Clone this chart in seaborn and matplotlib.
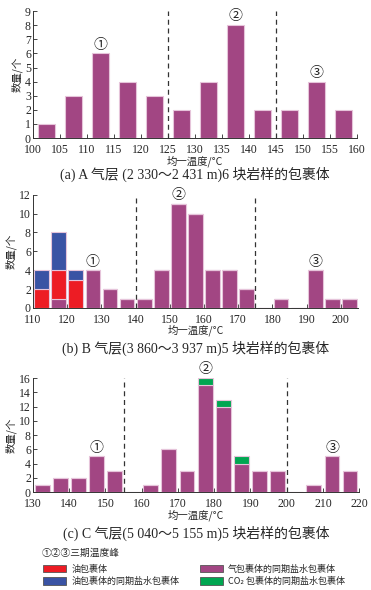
import numpy as np
import pandas as pd
import matplotlib
matplotlib.use("Agg")
import matplotlib.pyplot as plt
from matplotlib.patches import Patch
import seaborn as sns

# ---------------------------------------------------------------------------
# Data (bin left edges, counts per inclusion type)
# ---------------------------------------------------------------------------
a_bins = [100, 105, 110, 115, 120, 125, 130, 135, 140, 145, 150, 155]
a_gas = [1, 3, 6, 4, 3, 2, 4, 8, 2, 2, 4, 2]

b_bins = [110, 115, 120, 125, 130, 135, 140, 145, 150, 155, 160, 165, 170,
          175, 180, 185, 190, 195, 200]
b_gas = [0, 1, 0, 4, 2, 1, 1, 4, 11, 10, 4, 4, 2, 0, 1, 0, 4, 1, 1]
b_oil = [2, 3, 3, 0, 0, 0, 0, 0, 0, 0, 0, 0, 0, 0, 0, 0, 0, 0, 0]
b_oil_brine = [2, 4, 1, 0, 0, 0, 0, 0, 0, 0, 0, 0, 0, 0, 0, 0, 0, 0, 0]

c_bins = [130, 135, 140, 145, 150, 155, 160, 165, 170, 175, 180, 185, 190,
          195, 200, 205, 210, 215]
c_gas = [1, 2, 2, 5, 3, 0, 1, 6, 3, 15, 12, 4, 3, 3, 0, 1, 5, 3]
c_co2 = [0, 0, 0, 0, 0, 0, 0, 0, 0, 1, 1, 1, 0, 0, 0, 0, 0, 0]

titles = ["(a) A 气层 (2 330～2 431 m)6 块岩样的包裹体",
          "(b) B 气层(3 860～3 937 m)5 块岩样的包裹体",
          "(c) C 气层(5 040～5 155 m)5 块岩样的包裹体"]
peak_labels = ["①", "②", "③"]
a_peaks = [(112.5, 6), (137.5, 8), (152.5, 4)]
b_peaks = [(127.5, 4), (152.5, 11), (192.5, 4)]
c_peaks = [(147.5, 5), (177.5, 16), (212.5, 5)]
a_dashes = [125, 145]
b_dashes = [140, 175]
c_dashes = [155, 200]

# ---------------------------------------------------------------------------
# Style
# ---------------------------------------------------------------------------
RED = "#ED1C24"
BLUE = "#3A53A4"
PURPLE = "#A24683"
GREEN = "#00A651"
EDGE = "#E6C4DA"

sns.set_style("ticks")
SERIF = ["Liberation Serif", "Noto Sans CJK SC", "DejaVu Sans"]
CJK = ["Noto Sans CJK SC", "DejaVu Sans"]
plt.rcParams["font.family"] = SERIF
plt.rcParams["xtick.direction"] = "in"
plt.rcParams["ytick.direction"] = "in"
plt.rcParams["axes.edgecolor"] = "#333333"

fig = plt.figure(figsize=(3.71, 5.90), dpi=100)


def tidy(bins, series):
    rows = []
    for name, vals in series.items():
        for b, v in zip(bins, vals):
            rows.append({"x": b + 2.5, "n": v, "kind": name})
    return pd.DataFrame(rows)


def style_axes(ax, xlim, xticks, ylim, yticks, dashes, peaks, title, title_y):
    ax.set_xlim(*xlim)
    ax.set_ylim(*ylim)
    ax.set_xticks(xticks)
    ax.set_yticks(yticks)
    ax.tick_params(labelsize=8.5, length=3, width=0.6)
    ax.tick_params(axis="x", pad=4.5)
    ax.tick_params(axis="y", pad=1.5)
    for d in dashes:
        ax.axvline(d, color="#333333", linestyle=(0, (4, 3)), linewidth=0.9)
    for lab, (x, y) in zip(peak_labels, peaks):
        ax.text(x, y + ylim[1] * 0.015, lab, ha="center", va="bottom",
                fontsize=10, family=CJK, color="#222222")
    sns.despine(ax=ax)
    for s in ("left", "bottom"):
        ax.spines[s].set_linewidth(0.7)
    ax.set_xlabel("均一温度/°C", fontsize=7.5, family=CJK, labelpad=-1)
    ax.set_ylabel("数量/个", fontsize=7.5, family=CJK, labelpad=2)
    pos = ax.get_position()
    fig.text((pos.x0 + pos.x1) / 2, title_y, title, ha="center", va="center",
             fontsize=10, family=SERIF)


# Panel A
ax1 = fig.add_axes([0.089, 0.766, 0.873, 0.215])
dfa = tidy(a_bins, {"gas": a_gas})
sns.histplot(data=dfa, x="x", weights="n", binwidth=5, binrange=(100, 160),
             shrink=0.6, color=PURPLE, alpha=1, edgecolor=EDGE, linewidth=0.8,
             ax=ax1)
style_axes(ax1, (100, 160), np.arange(100, 165, 5), (0, 9), range(0, 10),
           a_dashes, a_peaks, titles[0], 1 - 174 / 590)

# Panel B
ax2 = fig.add_axes([0.089, 0.478, 0.876, 0.192])
dfb = tidy(b_bins, {"oil_brine": b_oil_brine, "oil": b_oil, "gas": b_gas})
sns.histplot(data=dfb, x="x", weights="n", hue="kind",
             hue_order=["oil_brine", "oil", "gas"], multiple="stack",
             binwidth=5, binrange=(110, 205), shrink=0.86,
             palette={"oil_brine": BLUE, "oil": RED, "gas": PURPLE},
             alpha=1, edgecolor=EDGE, linewidth=0.8, legend=False, ax=ax2)
style_axes(ax2, (110, 205), np.arange(110, 205, 10), (0, 12), range(0, 13, 2),
           b_dashes, b_peaks, titles[1], 1 - 348 / 590)

# Panel C
ax3 = fig.add_axes([0.089, 0.166, 0.879, 0.193])
dfc = tidy(c_bins, {"co2": c_co2, "gas": c_gas})
sns.histplot(data=dfc, x="x", weights="n", hue="kind",
             hue_order=["co2", "gas"], multiple="stack",
             binwidth=5, binrange=(130, 220), shrink=0.82,
             palette={"co2": GREEN, "gas": PURPLE},
             alpha=1, edgecolor=EDGE, linewidth=0.8, legend=False, ax=ax3)
style_axes(ax3, (130, 220), np.arange(130, 225, 10), (0, 16), range(0, 17, 2),
           c_dashes, c_peaks, titles[2], 1 - 533 / 590)

# Legend
fig.text(0.113, 1 - 553 / 590, "①②③三期温度峰", fontsize=7, family=CJK,
         va="center", ha="left")
handles = [Patch(facecolor=RED, edgecolor="#555555", linewidth=0.6),
           Patch(facecolor=BLUE, edgecolor="#555555", linewidth=0.6),
           Patch(facecolor=PURPLE, edgecolor="#555555", linewidth=0.6),
           Patch(facecolor=GREEN, edgecolor="#555555", linewidth=0.6)]
labels = ["油包裹体", "油包裹体的同期盐水包裹体",
          "气包裹体的同期盐水包裹体", "CO₂ 包裹体的同期盐水包裹体"]
fig.legend(handles, labels, ncol=2, loc="upper left",
           bbox_to_anchor=(0.1, 1 - 558 / 590), frameon=False,
           prop={"family": CJK, "size": 6.5}, handlelength=2.5,
           handleheight=0.9, handletextpad=0.6, columnspacing=2.3,
           labelspacing=0.35, borderpad=0.2)

fig.savefig("out.png", dpi=100)
